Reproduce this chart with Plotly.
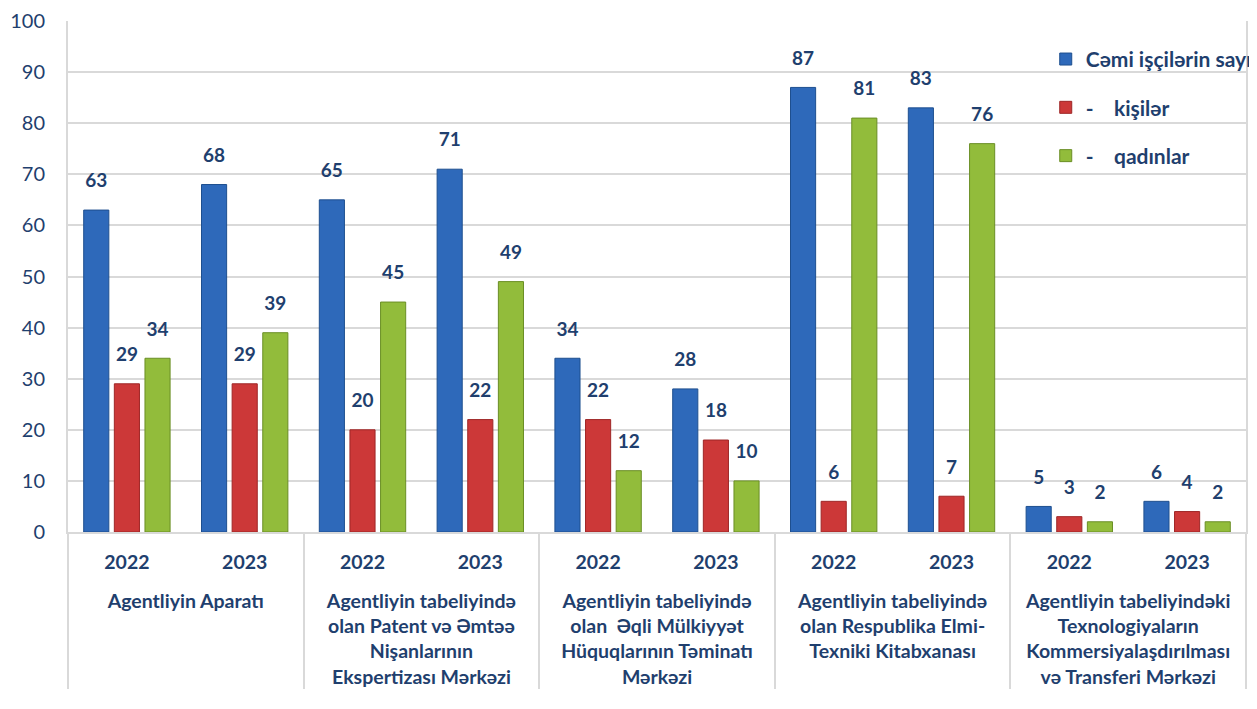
import plotly.graph_objects as go

groups = [
    "Agentliyin Aparatı",
    "Agentliyin tabeliyində<br>olan Patent və Əmtəə<br>Nişanlarının<br>Ekspertizası Mərkəzi",
    "Agentliyin tabeliyində<br>olan  Əqli Mülkiyyət<br>Hüquqlarının Təminatı<br>Mərkəzi",
    "Agentliyin tabeliyində<br>olan Respublika Elmi-<br>Texniki Kitabxanası",
    "Agentliyin tabeliyindəki<br>Texnologiyaların<br>Kommersiyalaşdırılması<br>və Transferi Mərkəzi",
]
years = ["2022", "2023"]

total = [63, 68, 65, 71, 34, 28, 87, 83, 5, 6]
men = [29, 29, 20, 22, 22, 18, 6, 7, 3, 4]
women = [34, 39, 45, 49, 12, 10, 81, 76, 2, 2]

series_names = ["Cəmi işçilərin sayı", "-    kişilər", "-    qadınlar"]
colors = ["#2E69BA", "#CC3838", "#92BC3B"]
edges = ["#1E4F8F", "#9E2626", "#6A8E25"]

# leading blank line pushes the group names below the year labels
outer = ["<br>" + g for g in groups for _ in years]
inner = [y for _ in groups for y in years]

text_color = "#1F3F6E"
font_family = "Lato, 'Open Sans', sans-serif"

fig = go.Figure()
for i, (name, vals, c, e) in enumerate(zip(series_names, [total, men, women], colors, edges)):
    fig.add_trace(go.Bar(
        x=[outer, inner], y=vals, name=name, legendgroup=f"g{i}",
        marker=dict(color=c, line=dict(color=e, width=1)),
        text=[f"{v}<br><sup> </sup>" for v in vals], textposition="outside",
        textfont=dict(size=19, color=text_color, family=font_family, weight="bold"),
        cliponaxis=False,
    ))

fig.update_layout(
    width=1249, height=701,
    margin=dict(l=60, r=11, t=13, b=177, autoexpand=False),
    paper_bgcolor="white", plot_bgcolor="white",
    barmode="group", bargap=0.22, bargroupgap=0.18,
    font=dict(family=font_family, color=text_color, size=18),
    showlegend=True,
    legend=dict(
        x=0.830, y=0.965, xanchor="left", yanchor="top",
        bgcolor="rgba(0,0,0,0)",
        font=dict(size=21, color=text_color, weight="bold"),
        tracegroupgap=18, itemwidth=30,
    ),
)
fig.update_yaxes(
    range=[0, 100], dtick=10, showgrid=True, gridcolor="#D9D9D9", gridwidth=2,
    showline=True, linecolor="#D9D9D9", linewidth=2, mirror=True,
    tickfont=dict(size=20, color=text_color), ticks="", zeroline=False,
    ticklabelstandoff=17, automargin=False,
)
fig.update_xaxes(
    showline=True, linecolor="#D9D9D9", linewidth=2,
    tickfont=dict(size=19.5, color=text_color, weight="bold"),
    showdividers=True, dividercolor="#D9D9D9", dividerwidth=2,
    ticks="", ticklabelstandoff=12,
    automargin=False,
)

fig.write_html("out.html")
